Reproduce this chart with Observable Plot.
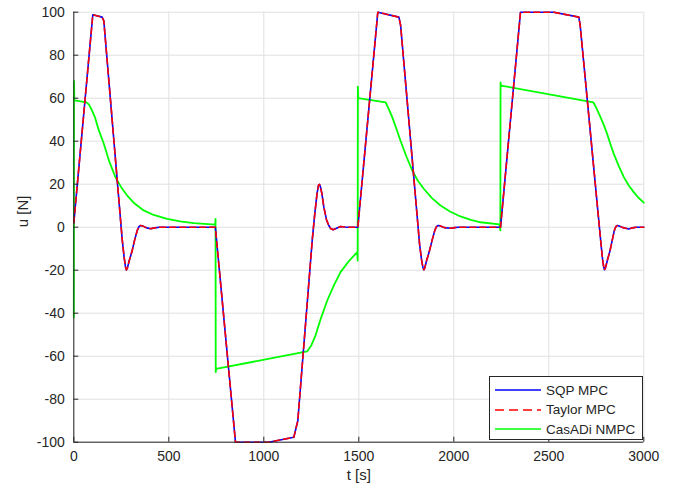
<!DOCTYPE html>
<html>
<head>
<meta charset="utf-8">
<script src="https://cdn.jsdelivr.net/npm/d3@7"></script>
<script src="https://cdn.jsdelivr.net/npm/@observablehq/plot@0.6"></script>
<style>
  html, body { margin: 0; padding: 0; background: #fff; }
  #wrap { position: relative; width: 675px; height: 491px; font-family: "Liberation Sans", Arial, sans-serif; }
  #legend { position: absolute; left: 489px; top: 376px; width: 152px; height: 62px; border: 1px solid #262626; background: #fff; color: #262626; font-size: 13.5px; box-sizing: content-box; }
  .row { position: absolute; left: 4px; height: 18px; display: flex; align-items: center; }
  .row svg { margin-right: 4px; }
</style>
</head>
<body>
<div id="wrap"></div>
<script>
// Tick values
const xTicks = [0, 500, 1000, 1500, 2000, 2500, 3000];
const yTicks = [-100, -80, -60, -40, -20, 0, 20, 40, 60, 80, 100];

// SQP MPC (time, u)
const sqpT = [0, 100, 149, 158, 255, 265, 272, 277, 282, 292, 307, 320, 334, 343, 351, 362, 380, 404, 425, 450, 745,
  851, 1026, 1158, 1179, 1255, 1268, 1280, 1288, 1293, 1298, 1306, 1316, 1330, 1342, 1352, 1365, 1380, 1404, 1425, 1440, 1495,
  1600, 1711, 1720, 1820, 1830, 1837, 1842, 1847, 1857, 1872, 1886, 1900, 1909, 1918, 1930, 1950, 1983, 2005, 2020, 2246,
  2351, 2526, 2658, 2665, 2775, 2783, 2789, 2793, 2798, 2808, 2822, 2834, 2845, 2853, 2860, 2870, 2890, 2921, 2940, 2960, 3000];
const sqpU = [2, 98.8, 97.7, 96, -6, -14, -18.5, -19.9, -19, -15.5, -11, -6, -1.5, 0.3, 0.8, 0.6, -0.2, -0.7, -0.3, 0, 0,
  -100, -100, -97.7, -90, -6, 6, 15.5, 19.6, 19.9, 18.8, 15.5, 9.3, 3.5, 0.8, -0.6, -1.2, -0.6, 0.3, 0.1, 0, 0,
  100, 97.7, 94, -8, -15, -18.5, -19.8, -19, -15.5, -11, -6, -1.5, 0.3, 0.8, 0.6, -0.2, -0.5, -0.2, 0, 0,
  100, 100, 97.7, 94, -8, -15, -18.5, -19.8, -19, -15.5, -11, -6, -1.5, 0.3, 0.8, 0.6, -0.2, -0.8, -0.3, 0, 0];

// Taylor MPC (read as identical to SQP MPC in the picture)
const taylorT = [0, 100, 149, 158, 255, 265, 272, 277, 282, 292, 307, 320, 334, 343, 351, 362, 380, 404, 425, 450, 745,
  851, 1026, 1158, 1179, 1255, 1268, 1280, 1288, 1293, 1298, 1306, 1316, 1330, 1342, 1352, 1365, 1380, 1404, 1425, 1440, 1495,
  1600, 1711, 1720, 1820, 1830, 1837, 1842, 1847, 1857, 1872, 1886, 1900, 1909, 1918, 1930, 1950, 1983, 2005, 2020, 2246,
  2351, 2526, 2658, 2665, 2775, 2783, 2789, 2793, 2798, 2808, 2822, 2834, 2845, 2853, 2860, 2870, 2890, 2921, 2940, 2960, 3000];
const taylorU = [2, 98.8, 97.7, 96, -6, -14, -18.5, -19.9, -19, -15.5, -11, -6, -1.5, 0.3, 0.8, 0.6, -0.2, -0.7, -0.3, 0, 0,
  -100, -100, -97.7, -90, -6, 6, 15.5, 19.6, 19.9, 18.8, 15.5, 9.3, 3.5, 0.8, -0.6, -1.2, -0.6, 0.3, 0.1, 0, 0,
  100, 97.7, 94, -8, -15, -18.5, -19.8, -19, -15.5, -11, -6, -1.5, 0.3, 0.8, 0.6, -0.2, -0.5, -0.2, 0, 0,
  100, 100, 97.7, 94, -8, -15, -18.5, -19.8, -19, -15.5, -11, -6, -1.5, 0.3, 0.8, 0.6, -0.2, -0.8, -0.3, 0, 0];

// CasADi NMPC
const casT = [0, 1, 3, 67, 80, 95, 111, 130, 158, 185, 219, 250, 281, 320, 368, 420, 491, 560, 632, 744, 746, 747, 749,
  1228, 1250, 1272, 1300, 1334, 1370, 1404, 1450, 1492, 1494, 1495, 1497,
  1641, 1655, 1676, 1697, 1719, 1750, 1781, 1810, 1842, 1885, 1930, 1980, 2035, 2090, 2141, 2240, 2245, 2246, 2248,
  2734, 2750, 2772, 2790, 2807, 2825, 2842, 2868, 2895, 2920, 2947, 2972, 3000];
const casU = [-42, 68, 59, 58.1, 57, 54.5, 51.2, 45.5, 38.8, 31, 23.3, 18.5, 14.7, 11, 7.8, 5.7, 3.9, 2.7, 1.9, 1.2, 3.9, -67.4, -65.9,
  -57.8, -55, -50.4, -42.5, -34.1, -26.8, -20.9, -15.5, -11.6, -15.5, 65.4, 60,
  58.1, 55.5, 51.2, 46, 40.3, 33, 26.4, 21.7, 17.9, 13.5, 10.1, 7.3, 5, 3.4, 2.3, 1.3, -1.5, 67.4, 65.9,
  58.1, 55.5, 51.2, 47.5, 43.4, 38.5, 34.1, 28.5, 23.3, 19.5, 16.3, 13.7, 11.4];

const sqp = sqpT.map((t, i) => ({t, u: sqpU[i]}));
const taylor = taylorT.map((t, i) => ({t, u: taylorU[i]}));
const cas = casT.map((t, i) => ({t, u: casU[i]}));

const W = 675, H = 491, mL = 73.3, mR = 31.7, mT = 11.7, mB = 49.3;
const plotW = W - mL - mR, plotH = H - mT - mB;
const ink = "#262626", grid = "#e0e0e0";

const chart = Plot.plot({
  width: W, height: H,
  marginLeft: mL, marginRight: mR, marginTop: mT, marginBottom: mB,
  style: {fontFamily: "'Liberation Sans', Arial, sans-serif", fontSize: "14px", color: ink, background: "#fff"},
  x: {domain: [0, 3000]},
  y: {domain: [-100, 100]},
  marks: [
    Plot.gridX(xTicks, {stroke: grid, strokeOpacity: 1, strokeWidth: 1}),
    Plot.gridY(yTicks, {stroke: grid, strokeOpacity: 1, strokeWidth: 1}),
    Plot.line(cas, {x: "t", y: "u", stroke: "#00ff00", strokeWidth: 1.8}),
    Plot.line(sqp, {x: "t", y: "u", stroke: "#0000ff", strokeWidth: 1.6}),
    Plot.line(taylor, {x: "t", y: "u", stroke: "#ff0000", strokeWidth: 1.6, strokeDasharray: "6,4"}),
    Plot.ruleX(xTicks, {x: d => d, stroke: ink, insetTop: plotH - 5}),
    Plot.ruleY(yTicks, {y: d => d, stroke: ink, insetRight: plotW - 5}),
    Plot.ruleX([0], {stroke: ink}),
    Plot.ruleY([-100], {stroke: ink}),
    Plot.axisX(xTicks, {tickSize: 0, tickPadding: 9, label: null, fill: ink, tickFormat: d => String(d)}),
    Plot.axisY(yTicks, {tickSize: 0, tickPadding: 9, label: null, fill: ink, tickFormat: d => String(d)}),
    Plot.text(["t [s]"], {frameAnchor: "bottom", dy: 38, fontSize: 15, fill: ink}),
    Plot.text(["u [N]"], {frameAnchor: "left", dx: -51, rotate: -90, fontSize: 15, fill: ink})
  ]
});
const wrap = document.getElementById("wrap");
wrap.appendChild(chart);

const legendItems = [
  {name: "SQP MPC", color: "#0000ff", dash: null},
  {name: "Taylor MPC", color: "#ff0000", dash: "9,5"},
  {name: "CasADi NMPC", color: "#00ff00", dash: null}
];
const lg = document.createElement("div");
lg.id = "legend";
legendItems.forEach((it, i) => {
  const r = document.createElement("div");
  r.className = "row";
  r.style.top = (4 + i * 19.5) + "px";
  r.innerHTML = `<svg width="48" height="10"><line x1="1" y1="5" x2="47" y2="5" stroke="${it.color}" stroke-width="1.5" ${it.dash ? `stroke-dasharray="${it.dash}"` : ""}/></svg><span>${it.name}</span>`;
  lg.appendChild(r);
});
wrap.appendChild(lg);
</script>
</body>
</html>
